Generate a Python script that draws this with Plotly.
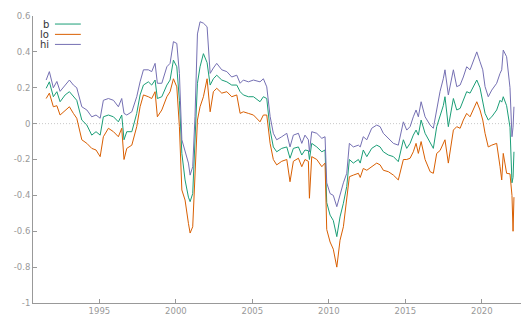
import plotly.graph_objects as go

years = [
    1991.52, 1991.73, 1991.99, 1992.22, 1992.43, 1992.76, 1993.04, 1993.30, 1993.52, 1993.85,
    1994.18, 1994.50, 1994.78, 1995.05, 1995.26, 1995.59, 1995.92, 1996.24, 1996.46, 1996.61,
    1996.79, 1997.12, 1997.44, 1997.66, 1997.88, 1998.20, 1998.42, 1998.64, 1998.79, 1999.08,
    1999.41, 1999.62, 1999.84, 2000.06, 2000.23, 2000.39, 2000.60, 2000.82, 2000.93, 2001.10,
    2001.25, 2001.41, 2001.58, 2001.80, 2002.04, 2002.24, 2002.45, 2002.67, 2003.00, 2003.33,
    2003.65, 2003.98, 2004.20, 2004.41, 2004.74, 2005.07, 2005.50, 2005.72, 2005.94, 2006.16,
    2006.37, 2006.59, 2006.92, 2007.25, 2007.46, 2007.68, 2008.01, 2008.23, 2008.44, 2008.66,
    2008.73, 2008.88, 2009.21, 2009.54, 2009.75, 2009.86, 2010.08, 2010.29, 2010.52, 2010.73,
    2010.95, 2011.17, 2011.34, 2011.60, 2011.93, 2012.05, 2012.25, 2012.48, 2012.80, 2013.13,
    2013.35, 2013.56, 2013.89, 2014.22, 2014.54, 2014.76, 2014.87, 2015.09, 2015.31, 2015.52,
    2015.70, 2015.85, 2016.03, 2016.29, 2016.62, 2016.83, 2017.05, 2017.27, 2017.48, 2017.59,
    2017.81, 2018.14, 2018.36, 2018.58, 2018.79, 2019.01, 2019.23, 2019.44, 2019.67, 2019.88,
    2020.06, 2020.21, 2020.42, 2020.65, 2020.97, 2021.19, 2021.30, 2021.40, 2021.62, 2021.84,
    2021.97, 2022.04, 2022.10,
]

hi = [
    0.243, 0.29, 0.20, 0.235, 0.18, 0.215, 0.243, 0.215, 0.20, 0.094,
    0.076, 0.038, 0.048, 0.03, 0.13, 0.14, 0.13, 0.094, 0.14, 0.057,
    0.048, 0.066, 0.15, 0.233, 0.30, 0.30, 0.29, 0.336, 0.225, 0.225,
    0.317, 0.336, 0.457, 0.447, 0.28, -0.09, -0.147, -0.22, -0.287, -0.24,
    0.04, 0.50, 0.568, 0.56, 0.54, 0.28, 0.31, 0.336, 0.30, 0.29,
    0.26, 0.27, 0.225, 0.243, 0.233, 0.243, 0.233, 0.25, 0.205, 0.04,
    -0.054, -0.09, -0.073, -0.054, -0.13, -0.064, -0.054, -0.11, -0.064, -0.09,
    -0.157, -0.045, -0.054, -0.082, -0.073, -0.33, -0.39, -0.40, -0.463, -0.39,
    -0.33, -0.277, -0.11, -0.13, -0.12, -0.13, -0.073, -0.09, -0.026, -0.008,
    -0.017, -0.054, -0.082, -0.11, -0.12, -0.036, 0.01, -0.036, -0.017, 0.038,
    0.076, 0.038, 0.122, 0.038, -0.008, -0.026, 0.076, 0.18, 0.25, 0.30,
    0.16, 0.30, 0.206, 0.215, 0.26, 0.317, 0.30, 0.354, 0.40, 0.345,
    0.30, 0.206, 0.15, 0.187, 0.225, 0.28, 0.30, 0.41, 0.373, 0.20,
    -0.073, -0.02, 0.094,
]

b = [
    0.197, 0.233, 0.15, 0.178, 0.122, 0.16, 0.178, 0.15, 0.13, 0.02,
    -0.008, -0.064, -0.045, -0.064, 0.038, 0.048, 0.038, 0.01, 0.048, -0.09,
    -0.045, -0.045, 0.057, 0.16, 0.215, 0.233, 0.215, 0.243, 0.14, 0.15,
    0.215, 0.243, 0.354, 0.317, 0.13, -0.166, -0.314, -0.41, -0.435, -0.39,
    -0.09, 0.225, 0.317, 0.39, 0.34, 0.215, 0.25, 0.27, 0.243, 0.233,
    0.215, 0.215, 0.178, 0.16, 0.15, 0.15, 0.122, 0.15, 0.14, -0.036,
    -0.13, -0.157, -0.138, -0.13, -0.193, -0.138, -0.13, -0.175, -0.147, -0.151,
    -0.20, -0.11, -0.13, -0.157, -0.147, -0.44, -0.51, -0.54, -0.63, -0.52,
    -0.444, -0.35, -0.20, -0.22, -0.20, -0.22, -0.147, -0.184, -0.138, -0.12,
    -0.13, -0.157, -0.175, -0.184, -0.212, -0.138, -0.09, -0.138, -0.11, -0.064,
    -0.036, -0.064, 0.02, -0.054, -0.11, -0.138, -0.017, 0.05, 0.10, 0.15,
    -0.017, 0.14, 0.076, 0.085, 0.13, 0.178, 0.17, 0.205, 0.243, 0.20,
    0.13, 0.057, 0.02, 0.038, 0.076, 0.13, 0.12, 0.15, 0.10, -0.02,
    -0.33, -0.30, -0.157,
]

lo = [
    0.14, 0.17, 0.094, 0.10, 0.048, 0.076, 0.094, 0.057, 0.03, -0.09,
    -0.11, -0.138, -0.147, -0.184, -0.073, -0.026, -0.045, -0.073, -0.026, -0.20,
    -0.138, -0.12, -0.017, 0.094, 0.16, 0.15, 0.14, 0.178, 0.038, 0.076,
    0.15, 0.178, 0.25, 0.205, -0.017, -0.37, -0.426, -0.556, -0.61, -0.575,
    -0.24, 0.02, 0.094, 0.15, 0.25, 0.066, 0.178, 0.197, 0.17, 0.178,
    0.15, 0.16, 0.057, 0.066, 0.057, 0.048, 0.01, 0.048, 0.048, -0.11,
    -0.20, -0.23, -0.21, -0.20, -0.324, -0.21, -0.193, -0.24, -0.20, -0.21,
    -0.416, -0.184, -0.20, -0.24, -0.22, -0.59, -0.66, -0.70, -0.80, -0.65,
    -0.575, -0.426, -0.296, -0.287, -0.277, -0.30, -0.25, -0.26, -0.24, -0.22,
    -0.23, -0.26, -0.268, -0.287, -0.314, -0.24, -0.20, -0.20, -0.193, -0.157,
    -0.11, -0.166, -0.10, -0.20, -0.268, -0.277, -0.166, -0.15, -0.11, -0.09,
    -0.22, -0.036, -0.017, -0.026, 0.02, 0.057, 0.038, 0.076, 0.122, 0.076,
    0.02, -0.054, -0.13, -0.12, -0.11, -0.24, -0.314, -0.166, -0.277, -0.28,
    -0.40, -0.60, -0.41,
]

series_names = ["b", "lo", "hi"]
series_colors = ["#1b9e77", "#d95f02", "#7570b3"]
series_values = [b, lo, hi]

y_ticks = [-1, -0.8, -0.6, -0.4, -0.2, 0, 0.2, 0.4, 0.6]
y_tick_text = ["-1", "-0.8", "-0.6", "-0.4", "-0.2", "0", "0.2", "0.4", "0.6"]
x_ticks = [1995, 2000, 2005, 2010, 2015, 2020]

fig = go.Figure()
for name, col, vals in zip(series_names, series_colors, series_values):
    fig.add_trace(go.Scatter(x=years, y=vals, mode="lines", name=name,
                             line=dict(color=col, width=1), showlegend=False))

axis_col = "#999999"
tick_font = dict(family="DejaVu Sans, Verdana, sans-serif", size=8.5, color="#999999")

fig.update_layout(
    width=521, height=320,
    margin=dict(l=33, r=0, t=16, b=17),
    paper_bgcolor="white", plot_bgcolor="white",
    xaxis=dict(range=[1990.66, 2022.56], tickvals=x_ticks, ticks="inside", ticklen=4,
               tickcolor=axis_col, showline=True, linecolor=axis_col, linewidth=1,
               showgrid=False, zeroline=False, tickfont=tick_font),
    yaxis=dict(range=[-1, 0.6], tickvals=y_ticks, ticktext=y_tick_text, ticks="inside",
               ticklen=4, tickcolor=axis_col, showline=True, linecolor=axis_col,
               linewidth=1, showgrid=False, zeroline=False, tickfont=tick_font),
)

# dotted zero reference line
fig.add_shape(type="line", xref="paper", x0=0, x1=1, yref="y", y0=0, y1=0,
              line=dict(color="#c8c8c8", width=1, dash="1px,2px"), layer="below")

# custom legend (text on the left, line sample on the right)
leg_y = [0.972, 0.936, 0.901]
for name, col, ly in zip(series_names, series_colors, leg_y):
    fig.add_annotation(xref="paper", yref="paper", x=0.036, y=ly, text=name,
                       showarrow=False, xanchor="right", yanchor="middle",
                       font=dict(family="DejaVu Sans, sans-serif", size=10, color="#333333"))
    fig.add_shape(type="line", xref="paper", yref="paper", x0=0.045, x1=0.098,
                  y0=ly, y1=ly, line=dict(color=col, width=1))

fig.write_html("out.html")
